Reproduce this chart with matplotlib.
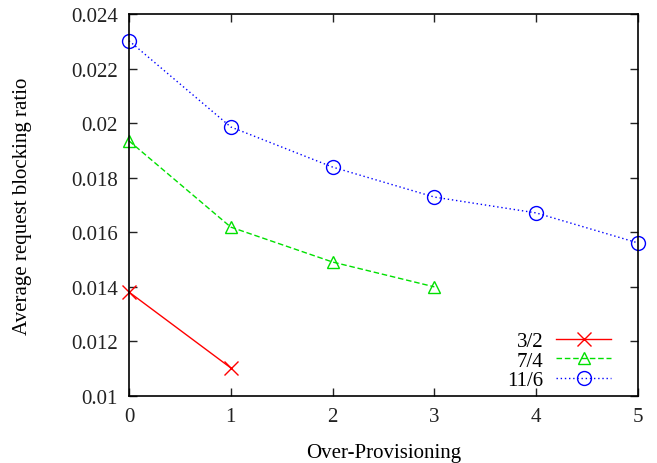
import matplotlib
matplotlib.use("Agg")
import matplotlib.pyplot as plt
from matplotlib.ticker import FormatStrFormatter

plt.rcParams["font.family"] = "Liberation Serif"
plt.rcParams["font.size"] = 15

# Data
x_32 = [0, 1]
y_32 = [0.01381, 0.01103]
x_74 = [0, 1, 2, 3]
y_74 = [0.01935, 0.01619, 0.01491, 0.01400]
x_116 = [0, 1, 2, 3, 4, 5]
y_116 = [0.02302, 0.01986, 0.01839, 0.01729, 0.01671, 0.01561]

fig = plt.figure(figsize=(6.57, 4.64), dpi=100)
ax = fig.add_axes([0.1963, 0.1444, 0.7747, 0.8233])

ax.plot(x_32, y_32, color="red", linewidth=1, marker="x", markersize=10,
        markeredgewidth=1, label="3/2", clip_on=False)
ax.plot(x_74, y_74, color="#00e000", linewidth=1, linestyle=(0, (4, 2)),
        marker="^", markersize=9, markerfacecolor="none", markeredgewidth=1,
        label="7/4", clip_on=False)
ax.plot(x_116, y_116, color="blue", linewidth=1, linestyle=(0, (1, 2)),
        marker="o", markersize=10, markerfacecolor="none", markeredgewidth=1,
        label="11/6", clip_on=False)

ax.set_xlim(0, 5)
ax.set_ylim(0.01, 0.024)
ax.set_xticks(range(6))
ax.set_yticks([0.01, 0.012, 0.014, 0.016, 0.018, 0.02, 0.022, 0.024])
ax.yaxis.set_major_formatter(FormatStrFormatter("%g"))
ax.tick_params(direction="in", top=True, right=True, length=6, width=1,
               labelsize=15, colors="#222222", pad=8)
for s in ax.spines.values():
    s.set_linewidth(1.2)

ax.set_xlabel("Over-Provisioning", fontsize=15, labelpad=12)
ax.set_ylabel("Average request blocking ratio", fontsize=15, labelpad=28)

ax.legend(loc="lower right", bbox_to_anchor=(0.964, -0.007), frameon=False,
          markerfirst=False, handlelength=2.65, fontsize=15, labelspacing=0.0,
          borderaxespad=0, handletextpad=0.6)

fig.savefig("out.png", dpi=100)
